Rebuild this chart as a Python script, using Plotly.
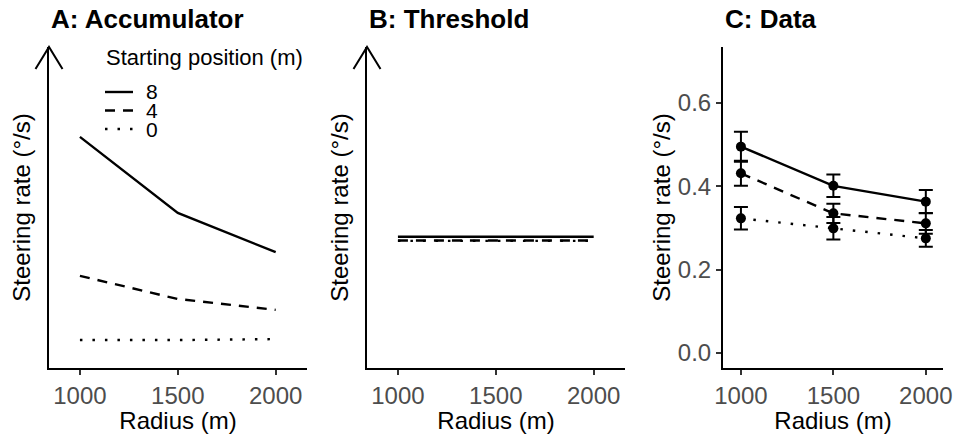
import plotly.graph_objects as go

# ---------------- data ----------------
radius = [1000, 1500, 2000]
start_positions = ["8", "4", "0"]

# Panel A: accumulator model (arbitrary units)
acc_8 = [0.720, 0.483, 0.361]
acc_4 = [0.287, 0.215, 0.181]
acc_0 = [0.087, 0.087, 0.090]

# Panel B: threshold model (arbitrary units)
thr_8 = [0.409, 0.409, 0.409]
thr_4 = [0.397, 0.397, 0.397]
thr_0 = [0.396, 0.396, 0.396]

# Panel C: data (deg/s) with error bars
data_8 = [0.495, 0.401, 0.363]
data_4 = [0.431, 0.335, 0.311]
data_0 = [0.323, 0.299, 0.275]
err_8 = [0.036, 0.027, 0.028]
err_4 = [0.030, 0.023, 0.025]
err_0 = [0.027, 0.027, 0.020]

c_yticks = [0.0, 0.2, 0.4, 0.6]
c_yticklabels = ["0.0", "0.2", "0.4", "0.6"]
xticks = [1000, 1500, 2000]

# ---------------- style ----------------
W, H = 954, 434
FONT = "Liberation Sans, Arial, sans-serif"
DASHES = {"8": "solid", "4": "10px,8px", "0": "2.5px,10px"}
LW = 2.4

def px_x(p):
    return p / W

def px_y(p):
    return 1 - p / H

dom_y = [px_y(368), px_y(47)]
dom_a = [px_x(49), px_x(307)]
dom_b = [px_x(367), px_x(625)]
dom_c = [px_x(723), px_x(943)]

fig = go.Figure()

series_a = {"8": acc_8, "4": acc_4, "0": acc_0}
series_b = {"8": thr_8, "4": thr_4, "0": thr_0}
series_c = {"8": (data_8, err_8), "4": (data_4, err_4), "0": (data_0, err_0)}

for k in start_positions:
    fig.add_trace(go.Scatter(x=radius, y=series_a[k], mode="lines", xaxis="x", yaxis="y",
                             line=dict(color="black", width=LW, dash=DASHES[k]),
                             showlegend=False, name=k))
for k in start_positions:
    fig.add_trace(go.Scatter(x=radius, y=series_b[k], mode="lines", xaxis="x2", yaxis="y2",
                             line=dict(color="black", width=LW, dash=DASHES[k]),
                             showlegend=False, name=k))
for k in start_positions:
    vals, errs = series_c[k]
    fig.add_trace(go.Scatter(x=radius, y=vals, mode="lines+markers", xaxis="x3", yaxis="y3",
                             line=dict(color="black", width=LW, dash=DASHES[k]),
                             marker=dict(color="black", size=10),
                             error_y=dict(type="data", array=errs, color="black",
                                          thickness=2, width=7),
                             showlegend=False, name=k))

tickfont = dict(family=FONT, size=24, color="#4d4d4d")
titlefont = dict(family=FONT, size=24, color="black")

def xaxis(dom, rng, anchor):
    return dict(domain=dom, range=rng, anchor=anchor, showline=True, linecolor="black",
                linewidth=2, ticks="outside", ticklen=5, tickwidth=2, tickcolor="#333333",
                tickvals=xticks, ticktext=[str(v) for v in xticks], tickfont=tickfont,
                showgrid=False, zeroline=False, automargin=False,
                title=dict(text="Radius (m)", font=titlefont, standoff=2))

def yaxis(dom, rng, anchor, ticks):
    d = dict(domain=dom, range=rng, anchor=anchor, showline=True, linecolor="black",
             linewidth=2, showgrid=False, zeroline=False, automargin=False,
             title=dict(text="Steering rate (°/s)", font=titlefont, standoff=10))
    if ticks:
        d.update(ticks="outside", ticklen=5, tickwidth=2, tickcolor="#333333",
                 tickvals=c_yticks, ticktext=c_yticklabels, tickfont=tickfont)
        d["title"]["standoff"] = 0
    else:
        d.update(showticklabels=False, ticks="")
    return d

fig.update_layout(
    width=W, height=H,
    margin=dict(l=0, r=0, t=0, b=0, autoexpand=False),
    paper_bgcolor="white", plot_bgcolor="white",
    font=dict(family=FONT),
    xaxis=xaxis(dom_a, [842, 2160], "y"),
    yaxis=yaxis(dom_y, [0, 1], "x", False),
    xaxis2=xaxis(dom_b, [842, 2160], "y2"),
    yaxis2=yaxis(dom_y, [0, 1], "x2", False),
    xaxis3=xaxis(dom_c, [903, 2093], "y3"),
    yaxis3=yaxis(dom_y, [-0.036, 0.734], "x3", True),
)

# Panel titles
for dom, txt in [(dom_a, "A: Accumulator"), (dom_b, "B: Threshold"), (dom_c, "C: Data")]:
    fig.add_annotation(x=dom[0], y=px_y(19), xref="paper", yref="paper",
                       xanchor="left", yanchor="middle", showarrow=False,
                       text="<b>" + txt + "</b>", font=dict(family=FONT, size=26, color="black"))

# Arrowheads on y axes of panels A and B
for dom in (dom_a, dom_b):
    fig.add_shape(type="path", xref="paper", yref="paper",
                  xsizemode="pixel", ysizemode="pixel",
                  xanchor=dom[0], yanchor=dom_y[1],
                  path="M -13.5,-22 L 0,0 L 13.5,-22",
                  line=dict(color="black", width=2))

# Manual legend in panel A
fig.add_annotation(x=px_x(104), y=px_y(58), xref="paper", yref="paper",
                   xanchor="left", yanchor="middle", showarrow=False,
                   text="Starting position (m)", font=dict(family=FONT, size=22, color="black"))
for i, k in enumerate(start_positions):
    yy = px_y(92 + 18.5 * i)
    fig.add_shape(type="line", xref="paper", yref="paper",
                  x0=px_x(105), x1=px_x(133), y0=yy, y1=yy,
                  line=dict(color="black", width=LW, dash=DASHES[k]))
    fig.add_annotation(x=px_x(145), y=yy, xref="paper", yref="paper",
                       xanchor="left", yanchor="middle", showarrow=False, borderpad=0,
                       text=k, font=dict(family=FONT, size=21, color="black"))

fig.write_html("out.html")
